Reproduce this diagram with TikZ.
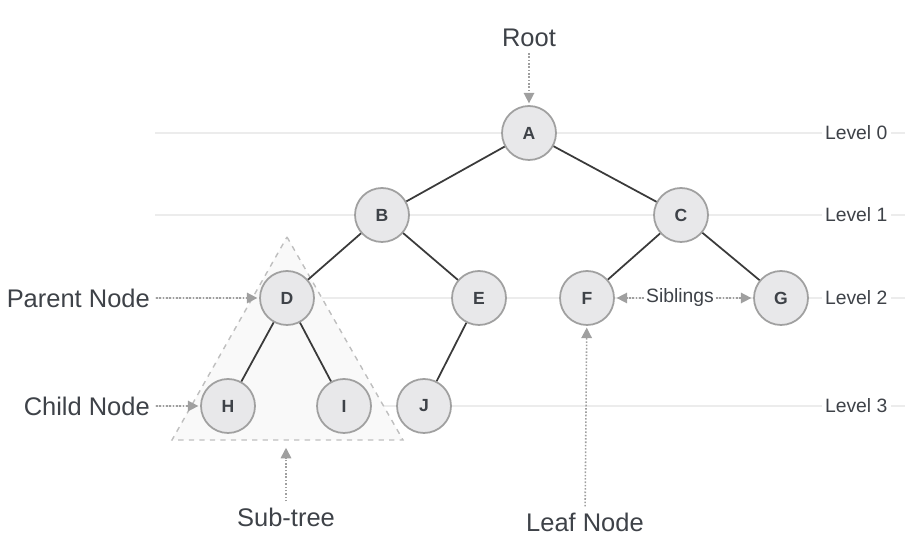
\documentclass[tikz,border=0pt]{standalone}
\usepackage{fontspec}
\setmainfont{Liberation Sans}
\usetikzlibrary{arrows.meta}
\definecolor{nodefill}{HTML}{E8E8EA}
\definecolor{nodeedge}{HTML}{A0A0A0}
\definecolor{inkgray}{HTML}{3E4248}
\definecolor{edgegray}{HTML}{3A3A3A}
\tikzset{
  treenode/.style={circle, draw=nodeedge, fill=nodefill, line width=1pt, minimum size=1.08cm, inner sep=0pt, text=inkgray, font=\fontsize{10}{12}\selectfont\bfseries},
  edge/.style={edgegray, line width=1pt},
  pointer/.style={densely dotted, color=gray!75, line width=0.9pt, -{Triangle[length=6pt,width=6pt]}, shorten >=1pt},
  levelline/.style={gray!15, line width=0.7pt},
  leveltext/.style={fill=white, text=inkgray, font=\fontsize{11}{13}\selectfont, inner xsep=2pt},
  tag/.style={text=inkgray, font=\fontsize{14.5}{17}\selectfont},
}
\begin{document}
\begin{tikzpicture}[x=0.02cm, y=-0.02cm]
\useasboundingbox (0,0) rectangle (910,543);
% levels
\draw[levelline] (155,133) -- (905,133) node[leveltext, pos=0.935] (lev0) {Level 0};
\draw[levelline] (155,215) -- (905,215) node[leveltext, pos=0.935] (lev1) {Level 1};
\draw[levelline] (155,298) -- (905,298) node[leveltext, pos=0.935] (lev2) {Level 2};
\draw[levelline] (155,406) -- (905,406) node[leveltext, pos=0.935] (lev3) {Level 3};
% sub-tree
\draw[dashed, gray!50, fill=gray!5, line width=0.8pt] (287,237) -- (403,440) -- (172,440) -- cycle;
\coordinate (stip) at (286,446);
% tree
\node[treenode] (A) at (529,133) {A};
\node[treenode] (B) at (382,215) {B};
\node[treenode] (C) at (681,215) {C};
\node[treenode] (D) at (287,298) {D};
\node[treenode] (E) at (479,298) {E};
\node[treenode] (F) at (587,298) {F};
\node[treenode] (G) at (781,298) {G};
\node[treenode] (H) at (228,406) {H};
\node[treenode] (I) at (344,406) {I};
\node[treenode] (J) at (424,406) {J};
\draw[edge] (A) -- (B);
\draw[edge] (A) -- (C);
\draw[edge] (B) -- (D);
\draw[edge] (B) -- (E);
\draw[edge] (C) -- (F);
\draw[edge] (C) -- (G);
\draw[edge] (D) -- (H);
\draw[edge] (D) -- (I);
\draw[edge] (E) -- (J);
% labels
\node[tag] (root) at (529,38) {Root};
\node[tag, anchor=east] (parent) at (156,298) {Parent Node};
\node[tag, anchor=east] (child) at (156,406) {Child Node};
\node[tag] (subtree) at (286,517) {Sub-tree};
\node[tag] (leaf) at (585,522) {Leaf Node};
\node[leveltext, inner xsep=1pt] (sib) at (680,298) {Siblings};
\draw[pointer] (root) -- (A);
\draw[pointer] (parent) -- (D);
\draw[pointer] (child) -- (H);
\draw[pointer] (subtree) -- (stip);
\draw[pointer] (leaf) -- (F);
\draw[pointer] (sib) -- (F);
\draw[pointer] (sib) -- (G);
\end{tikzpicture}
\end{document}
